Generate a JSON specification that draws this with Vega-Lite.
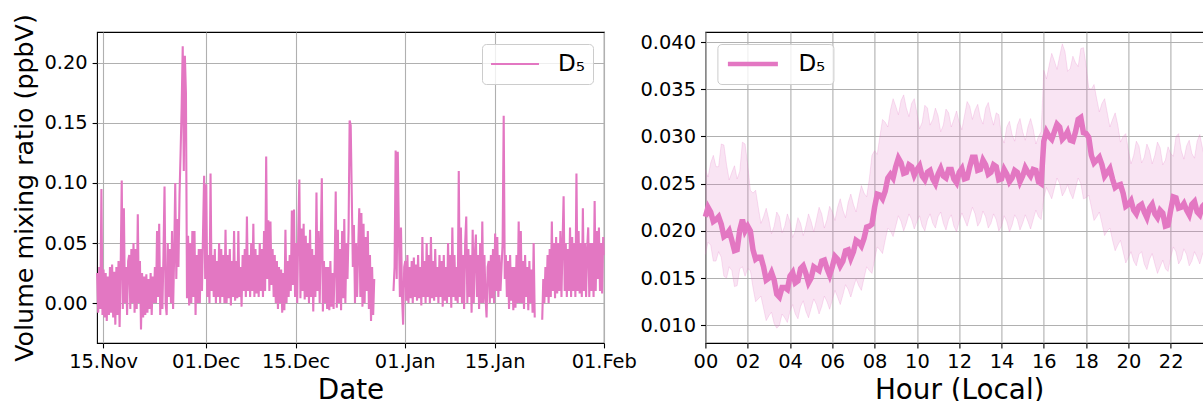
{
  "$schema": "https://vega.github.io/schema/vega-lite/v6.json",
  "autosize": {"type": "pad"},
  "padding": {"left": 12, "top": 13, "right": 0, "bottom": 0},
  "background": "white",
  "config": {
    "font": "DejaVu Sans",
    "view": {"stroke": "black", "strokeWidth": 1.1},
    "axis": {
      "domain": false,
      "grid": true,
      "gridColor": "#b0b0b0",
      "gridWidth": 1.1,
      "gridOpacity": 1,
      "tickColor": "black",
      "tickSize": 4.9,
      "tickWidth": 1.1,
      "labelFontSize": 19.4,
      "labelColor": "black",
      "labelPadding": 5,
      "labelFlush": false,
      "labelOverlap": false,
      "titleColor": "black",
      "titleFontWeight": "normal"
    },
    "legend": {
      "labelColor": "black",
      "labelFontSize": 23,
      "labelOffset": 18,
      "padding": 8,
      "offset": 11.5,
      "clipHeight": 24,
      "fillColor": "rgba(255,255,255,0.8)",
      "strokeColor": "#cccccc",
      "cornerRadius": 4,
      "symbolType": "stroke"
    }
  },
  "bounds": "flush",
  "spacing": 101.4,
  "resolve": {"scale": {"color": "independent"}, "legend": {"color": "independent"}},
  "hconcat": [
    {
      "width": 507,
      "height": 311,
      "data": {
        "format": {"parse": {"t": "utc:'%y%m%d%H'"}},
        "values": [
          {"t":"22111402","v":0.025},{"t":"22111406","v":-0.008},{"t":"22111410","v":0.03},{"t":"22111414","v":-0.005},{"t":"22111418","v":0.095},{"t":"22111422","v":-0.01},
          {"t":"22111502","v":0.028},{"t":"22111506","v":-0.012},{"t":"22111510","v":0.025},{"t":"22111514","v":-0.015},{"t":"22111518","v":0.022},{"t":"22111522","v":-0.01},
          {"t":"22111602","v":0.03},{"t":"22111606","v":-0.008},{"t":"22111610","v":0.032},{"t":"22111614","v":-0.012},{"t":"22111618","v":0.026},{"t":"22111622","v":-0.018},
          {"t":"22111702","v":0.03},{"t":"22111706","v":-0.01},{"t":"22111710","v":0.035},{"t":"22111714","v":-0.02},{"t":"22111718","v":0.03},{"t":"22111722","v":0.102},
          {"t":"22111802","v":-0.005},{"t":"22111806","v":0.079},{"t":"22111810","v":0.0},{"t":"22111814","v":0.03},{"t":"22111818","v":-0.01},{"t":"22111822","v":0.035},
          {"t":"22111902","v":0.04},{"t":"22111906","v":-0.005},{"t":"22111910","v":0.045},{"t":"22111914","v":0.0},{"t":"22111918","v":0.05},{"t":"22111922","v":-0.008},
          {"t":"22112002","v":0.045},{"t":"22112006","v":-0.005},{"t":"22112010","v":0.074},{"t":"22112014","v":0.0},{"t":"22112018","v":0.035},{"t":"22112022","v":-0.022},
          {"t":"22112102","v":0.025},{"t":"22112106","v":-0.012},{"t":"22112110","v":0.022},{"t":"22112114","v":-0.01},{"t":"22112118","v":0.024},{"t":"22112122","v":-0.008},
          {"t":"22112202","v":0.02},{"t":"22112206","v":-0.005},{"t":"22112210","v":0.025},{"t":"22112214","v":-0.01},{"t":"22112218","v":0.022},{"t":"22112222","v":0.0},
          {"t":"22112302","v":0.03},{"t":"22112306","v":0.0},{"t":"22112310","v":0.06},{"t":"22112314","v":0.005},{"t":"22112318","v":0.066},{"t":"22112322","v":-0.01},
          {"t":"22112402","v":0.03},{"t":"22112406","v":-0.005},{"t":"22112410","v":0.04},{"t":"22112414","v":0.097},{"t":"22112418","v":0.0},{"t":"22112422","v":-0.01},
          {"t":"22112502","v":0.05},{"t":"22112506","v":0.005},{"t":"22112510","v":0.045},{"t":"22112514","v":0.0},{"t":"22112518","v":0.06},{"t":"22112522","v":-0.005},
          {"t":"22112602","v":0.04},{"t":"22112606","v":0.1},{"t":"22112610","v":0.02},{"t":"22112614","v":0.07},{"t":"22112618","v":0.03},{"t":"22112622","v":0.09},
          {"t":"22112702","v":0.125},{"t":"22112706","v":0.163},{"t":"22112710","v":0.214},{"t":"22112714","v":0.11},{"t":"22112718","v":0.206},{"t":"22112722","v":0.175},
          {"t":"22112802","v":0.004},{"t":"22112806","v":0.056},{"t":"22112810","v":-0.002},{"t":"22112814","v":0.05},{"t":"22112818","v":0.0},{"t":"22112822","v":0.06},
          {"t":"22112902","v":0.005},{"t":"22112906","v":0.06},{"t":"22112910","v":-0.01},{"t":"22112914","v":0.04},{"t":"22112918","v":0.0},{"t":"22112922","v":0.045},
          {"t":"22113002","v":0.0},{"t":"22113006","v":0.045},{"t":"22113010","v":0.01},{"t":"22113014","v":0.06},{"t":"22113018","v":0.106},{"t":"22113022","v":0.02},
          {"t":"22120102","v":0.099},{"t":"22120106","v":0.005},{"t":"22120110","v":0.04},{"t":"22120114","v":0.0},{"t":"22120118","v":0.108},{"t":"22120122","v":0.01},
          {"t":"22120202","v":0.04},{"t":"22120206","v":0.005},{"t":"22120210","v":0.045},{"t":"22120214","v":0.0},{"t":"22120218","v":0.035},{"t":"22120222","v":0.005},
          {"t":"22120302","v":0.05},{"t":"22120306","v":0.0},{"t":"22120310","v":0.045},{"t":"22120314","v":0.005},{"t":"22120318","v":0.04},{"t":"22120322","v":0.0},
          {"t":"22120402","v":0.061},{"t":"22120406","v":0.0},{"t":"22120410","v":0.04},{"t":"22120414","v":0.004},{"t":"22120418","v":0.045},{"t":"22120422","v":-0.002},
          {"t":"22120502","v":0.035},{"t":"22120506","v":0.005},{"t":"22120510","v":0.06},{"t":"22120514","v":0.002},{"t":"22120518","v":0.035},{"t":"22120522","v":0.004},
          {"t":"22120602","v":0.06},{"t":"22120606","v":0.005},{"t":"22120610","v":0.03},{"t":"22120614","v":-0.003},{"t":"22120618","v":0.04},{"t":"22120622","v":0.01},
          {"t":"22120702","v":0.045},{"t":"22120706","v":0.005},{"t":"22120710","v":0.072},{"t":"22120714","v":0.01},{"t":"22120718","v":0.04},{"t":"22120722","v":0.005},
          {"t":"22120802","v":0.05},{"t":"22120806","v":0.01},{"t":"22120810","v":0.066},{"t":"22120814","v":0.005},{"t":"22120818","v":0.045},{"t":"22120822","v":0.008},
          {"t":"22120902","v":0.04},{"t":"22120906","v":0.005},{"t":"22120910","v":0.05},{"t":"22120914","v":0.01},{"t":"22120918","v":0.045},{"t":"22120922","v":0.005},
          {"t":"22121002","v":0.06},{"t":"22121006","v":0.01},{"t":"22121010","v":0.122},{"t":"22121014","v":0.02},{"t":"22121018","v":0.069},{"t":"22121022","v":0.01},
          {"t":"22121102","v":0.068},{"t":"22121106","v":0.015},{"t":"22121110","v":0.045},{"t":"22121114","v":0.005},{"t":"22121118","v":0.04},{"t":"22121122","v":0.0},
          {"t":"22121202","v":0.035},{"t":"22121206","v":-0.005},{"t":"22121210","v":0.03},{"t":"22121214","v":0.0},{"t":"22121218","v":0.028},{"t":"22121222","v":-0.008},
          {"t":"22121302","v":0.025},{"t":"22121306","v":-0.006},{"t":"22121310","v":0.061},{"t":"22121314","v":0.0},{"t":"22121318","v":0.035},{"t":"22121322","v":0.005},
          {"t":"22121402","v":0.04},{"t":"22121406","v":0.01},{"t":"22121410","v":0.077},{"t":"22121414","v":0.015},{"t":"22121418","v":0.078},{"t":"22121422","v":0.005},
          {"t":"22121502","v":0.05},{"t":"22121506","v":0.0},{"t":"22121510","v":0.06},{"t":"22121514","v":0.103},{"t":"22121518","v":0.004},{"t":"22121522","v":0.062},
          {"t":"22121602","v":0.01},{"t":"22121606","v":0.066},{"t":"22121610","v":0.003},{"t":"22121614","v":0.056},{"t":"22121618","v":0.005},{"t":"22121622","v":0.05},
          {"t":"22121702","v":0.0},{"t":"22121706","v":0.061},{"t":"22121710","v":0.005},{"t":"22121714","v":0.045},{"t":"22121718","v":-0.007},{"t":"22121722","v":0.04},
          {"t":"22121802","v":0.005},{"t":"22121806","v":0.092},{"t":"22121810","v":0.01},{"t":"22121814","v":0.06},{"t":"22121818","v":0.0},{"t":"22121822","v":0.05},
          {"t":"22121902","v":0.104},{"t":"22121906","v":-0.007},{"t":"22121910","v":0.035},{"t":"22121914","v":0.0},{"t":"22121918","v":0.03},{"t":"22121922","v":-0.005},
          {"t":"22122002","v":0.03},{"t":"22122006","v":-0.006},{"t":"22122010","v":0.035},{"t":"22122014","v":-0.003},{"t":"22122018","v":0.025},{"t":"22122022","v":-0.005},
          {"t":"22122102","v":0.03},{"t":"22122106","v":0.093},{"t":"22122110","v":-0.004},{"t":"22122114","v":0.061},{"t":"22122118","v":0.0},{"t":"22122122","v":0.045},
          {"t":"22122202","v":-0.006},{"t":"22122206","v":0.06},{"t":"22122210","v":0.004},{"t":"22122214","v":0.07},{"t":"22122218","v":0.0},{"t":"22122222","v":0.05},
          {"t":"22122302","v":0.02},{"t":"22122306","v":0.06},{"t":"22122310","v":0.152},{"t":"22122314","v":0.148},{"t":"22122318","v":0.09},{"t":"22122322","v":0.03},
          {"t":"22122402","v":0.065},{"t":"22122406","v":0.0},{"t":"22122410","v":0.05},{"t":"22122414","v":0.005},{"t":"22122418","v":0.045},{"t":"22122422","v":0.079},
          {"t":"22122502","v":0.005},{"t":"22122506","v":0.075},{"t":"22122510","v":-0.003},{"t":"22122514","v":0.066},{"t":"22122518","v":0.0},{"t":"22122522","v":0.055},
          {"t":"22122602","v":0.01},{"t":"22122606","v":0.06},{"t":"22122610","v":-0.005},{"t":"22122614","v":0.04},{"t":"22122618","v":-0.015},{"t":"22122622","v":0.03},
          {"t":"22122702","v":-0.01},{"t":"22122706","v":0.02},{"t":"22122710","v":null},
          {"t":"22123006","v":0.01},{"t":"22123010","v":0.03},{"t":"22123014","v":0.127},{"t":"22123018","v":0.02},{"t":"22123022","v":0.126},
          {"t":"22123102","v":0.06},{"t":"22123106","v":0.005},{"t":"22123110","v":0.063},{"t":"22123114","v":0.005},{"t":"22123118","v":-0.018},{"t":"22123122","v":0.03},
          {"t":"23010102","v":0.035},{"t":"23010106","v":0.002},{"t":"23010110","v":0.04},{"t":"23010114","v":0.0},{"t":"23010118","v":0.03},{"t":"23010122","v":0.004},
          {"t":"23010202","v":0.035},{"t":"23010206","v":0.0},{"t":"23010210","v":0.038},{"t":"23010214","v":0.005},{"t":"23010218","v":0.032},{"t":"23010222","v":0.002},
          {"t":"23010302","v":0.04},{"t":"23010306","v":0.004},{"t":"23010310","v":0.03},{"t":"23010314","v":-0.002},{"t":"23010318","v":0.055},{"t":"23010322","v":0.005},
          {"t":"23010402","v":0.035},{"t":"23010406","v":0.0},{"t":"23010410","v":0.05},{"t":"23010414","v":0.005},{"t":"23010418","v":0.04},{"t":"23010422","v":0.0},
          {"t":"23010502","v":0.055},{"t":"23010506","v":0.004},{"t":"23010510","v":0.035},{"t":"23010514","v":0.002},{"t":"23010518","v":0.045},{"t":"23010522","v":0.005},
          {"t":"23010602","v":0.03},{"t":"23010606","v":0.0},{"t":"23010610","v":0.04},{"t":"23010614","v":0.005},{"t":"23010618","v":0.035},{"t":"23010622","v":-0.003},
          {"t":"23010702","v":0.04},{"t":"23010706","v":0.002},{"t":"23010710","v":0.03},{"t":"23010714","v":0.0},{"t":"23010718","v":0.05},{"t":"23010722","v":0.005},
          {"t":"23010802","v":0.04},{"t":"23010806","v":-0.004},{"t":"23010810","v":0.063},{"t":"23010814","v":0.005},{"t":"23010818","v":0.04},{"t":"23010822","v":0.002},
          {"t":"23010902","v":0.03},{"t":"23010906","v":0.0},{"t":"23010910","v":0.11},{"t":"23010914","v":0.005},{"t":"23010918","v":0.063},{"t":"23010922","v":0.0},
          {"t":"23011002","v":0.04},{"t":"23011006","v":-0.005},{"t":"23011010","v":0.05},{"t":"23011014","v":0.072},{"t":"23011018","v":0.0},{"t":"23011022","v":0.045},
          {"t":"23011102","v":0.005},{"t":"23011106","v":0.04},{"t":"23011110","v":-0.008},{"t":"23011114","v":0.061},{"t":"23011118","v":0.0},{"t":"23011122","v":0.04},
          {"t":"23011202","v":0.057},{"t":"23011206","v":0.005},{"t":"23011210","v":0.04},{"t":"23011214","v":-0.005},{"t":"23011218","v":0.05},{"t":"23011222","v":0.0},
          {"t":"23011302","v":0.068},{"t":"23011306","v":0.0},{"t":"23011310","v":0.04},{"t":"23011314","v":0.005},{"t":"23011318","v":-0.012},{"t":"23011322","v":0.03},
          {"t":"23011402","v":0.035},{"t":"23011406","v":0.0},{"t":"23011410","v":0.04},{"t":"23011414","v":0.004},{"t":"23011418","v":0.045},{"t":"23011422","v":0.0},
          {"t":"23011502","v":0.058},{"t":"23011506","v":0.01},{"t":"23011510","v":0.055},{"t":"23011514","v":0.005},{"t":"23011518","v":0.04},{"t":"23011522","v":0.01},
          {"t":"23011602","v":0.03},{"t":"23011606","v":0.05},{"t":"23011610","v":0.156},{"t":"23011614","v":0.02},{"t":"23011618","v":0.04},{"t":"23011622","v":0.005},
          {"t":"23011702","v":0.035},{"t":"23011706","v":-0.005},{"t":"23011710","v":0.04},{"t":"23011714","v":0.002},{"t":"23011718","v":0.03},{"t":"23011722","v":-0.006},
          {"t":"23011802","v":0.03},{"t":"23011806","v":-0.004},{"t":"23011810","v":0.04},{"t":"23011814","v":0.0},{"t":"23011818","v":0.068},{"t":"23011822","v":0.0},
          {"t":"23011902","v":0.06},{"t":"23011906","v":0.0},{"t":"23011910","v":0.035},{"t":"23011914","v":-0.005},{"t":"23011918","v":0.04},{"t":"23011922","v":0.005},
          {"t":"23012002","v":0.03},{"t":"23012006","v":-0.006},{"t":"23012010","v":0.035},{"t":"23012014","v":0.0},{"t":"23012018","v":0.028},{"t":"23012022","v":-0.008},
          {"t":"23012102","v":0.05},{"t":"23012106","v":-0.012},{"t":"23012110","v":null},
          {"t":"23012210","v":-0.014},{"t":"23012214","v":0.02},{"t":"23012218","v":0.0},{"t":"23012222","v":0.03},
          {"t":"23012302","v":0.005},{"t":"23012306","v":0.04},{"t":"23012310","v":0.0},{"t":"23012314","v":0.045},{"t":"23012318","v":0.005},{"t":"23012322","v":0.068},
          {"t":"23012402","v":0.01},{"t":"23012406","v":0.05},{"t":"23012410","v":0.004},{"t":"23012414","v":0.055},{"t":"23012418","v":0.008},{"t":"23012422","v":0.05},
          {"t":"23012502","v":0.01},{"t":"23012506","v":0.06},{"t":"23012510","v":0.005},{"t":"23012514","v":0.05},{"t":"23012518","v":0.089},{"t":"23012522","v":0.01},
          {"t":"23012602","v":0.05},{"t":"23012606","v":0.005},{"t":"23012610","v":0.045},{"t":"23012614","v":0.01},{"t":"23012618","v":0.063},{"t":"23012622","v":0.005},
          {"t":"23012702","v":0.055},{"t":"23012706","v":0.01},{"t":"23012710","v":0.05},{"t":"23012714","v":0.005},{"t":"23012718","v":0.108},{"t":"23012722","v":0.01},
          {"t":"23012802","v":0.06},{"t":"23012806","v":0.008},{"t":"23012810","v":0.05},{"t":"23012814","v":0.005},{"t":"23012818","v":0.079},{"t":"23012822","v":0.01},
          {"t":"23012902","v":0.05},{"t":"23012906","v":0.005},{"t":"23012910","v":0.045},{"t":"23012914","v":0.063},{"t":"23012918","v":0.005},{"t":"23012922","v":0.05},
          {"t":"23013002","v":0.01},{"t":"23013006","v":0.05},{"t":"23013010","v":0.005},{"t":"23013014","v":0.085},{"t":"23013018","v":0.01},{"t":"23013022","v":0.06},
          {"t":"23013102","v":0.02},{"t":"23013106","v":0.063},{"t":"23013110","v":0.01},{"t":"23013114","v":0.05},{"t":"23013118","v":0.008},{"t":"23013122","v":0.055},
          {"t":"23020100","v":0.04}
        ]
      },
      "mark": {"type": "line", "strokeWidth": 2.1, "invalid": "break-paths-show-domains"},
      "encoding": {
        "x": {
          "field": "t",
          "type": "temporal",
          "scale": {
            "type": "utc",
            "domain": [
              {"year": 2022, "month": 11, "date": 14, "hours": 1, "minutes": 30, "utc": true},
              {"year": 2023, "month": 2, "date": 1, "hours": 1, "utc": true}
            ]
          },
          "axis": {
            "values": [
              {"year": 2022, "month": 11, "date": 15, "utc": true},
              {"year": 2022, "month": 12, "date": 1, "utc": true},
              {"year": 2022, "month": 12, "date": 15, "utc": true},
              {"year": 2023, "month": 1, "date": 1, "utc": true},
              {"year": 2023, "month": 1, "date": 15, "utc": true},
              {"year": 2023, "month": 2, "date": 1, "utc": true}
            ],
            "format": "%d.%b",
            "title": "Date",
            "titleFontSize": 27.8,
            "titlePadding": 5
          }
        },
        "y": {
          "field": "v",
          "type": "quantitative",
          "scale": {"domain": [-0.0333, 0.2258], "nice": false, "zero": false},
          "axis": {
            "values": [0, 0.05, 0.1, 0.15, 0.2],
            "format": ".2f",
            "title": "Volume mixing ratio (ppbV)",
            "titleFontSize": 25.3,
            "titlePadding": 6
          }
        },
        "color": {
          "datum": "D₅",
          "type": "nominal",
          "scale": {"range": ["#e377c2"]},
          "legend": {"title": null, "orient": "top-right", "symbolStrokeWidth": 2, "symbolSize": 2300}
        }
      }
    },
    {
      "width": 507.6,
      "height": 311,
      "data": {
        "values": [
          {"h":0.00,"m":0.0215,"lo":0.0175,"hi":0.0265},
          {"h":0.25,"m":0.0220,"lo":0.0185,"hi":0.0272},
          {"h":0.50,"m":0.0212,"lo":0.0168,"hi":0.0268},
          {"h":0.75,"m":0.0207,"lo":0.0172,"hi":0.0292},
          {"h":1.00,"m":0.0196,"lo":0.0150,"hi":0.0270},
          {"h":1.25,"m":0.0190,"lo":0.0158,"hi":0.0262},
          {"h":1.50,"m":0.0180,"lo":0.0142,"hi":0.0255},
          {"h":1.75,"m":0.0212,"lo":0.0162,"hi":0.0294},
          {"h":2.00,"m":0.0205,"lo":0.0160,"hi":0.0270},
          {"h":2.25,"m":0.0180,"lo":0.0140,"hi":0.0240},
          {"h":2.50,"m":0.0172,"lo":0.0128,"hi":0.0225},
          {"h":2.75,"m":0.0162,"lo":0.0118,"hi":0.0215},
          {"h":3.00,"m":0.0150,"lo":0.0110,"hi":0.0212},
          {"h":3.25,"m":0.0148,"lo":0.0102,"hi":0.0205},
          {"h":3.50,"m":0.0130,"lo":0.0100,"hi":0.0215},
          {"h":3.75,"m":0.0140,"lo":0.0108,"hi":0.0205},
          {"h":4.00,"m":0.0152,"lo":0.0115,"hi":0.0210},
          {"h":4.25,"m":0.0145,"lo":0.0112,"hi":0.0200},
          {"h":4.50,"m":0.0160,"lo":0.0120,"hi":0.0208},
          {"h":4.75,"m":0.0155,"lo":0.0115,"hi":0.0205},
          {"h":5.00,"m":0.0150,"lo":0.0118,"hi":0.0210},
          {"h":5.25,"m":0.0160,"lo":0.0122,"hi":0.0212},
          {"h":5.50,"m":0.0168,"lo":0.0120,"hi":0.0218},
          {"h":5.75,"m":0.0160,"lo":0.0125,"hi":0.0212},
          {"h":6.00,"m":0.0162,"lo":0.0127,"hi":0.0220},
          {"h":6.25,"m":0.0170,"lo":0.0130,"hi":0.0225},
          {"h":6.50,"m":0.0168,"lo":0.0132,"hi":0.0222},
          {"h":6.75,"m":0.0180,"lo":0.0138,"hi":0.0230},
          {"h":7.00,"m":0.0178,"lo":0.0140,"hi":0.0228},
          {"h":7.25,"m":0.0188,"lo":0.0142,"hi":0.0235},
          {"h":7.50,"m":0.0192,"lo":0.0150,"hi":0.0240},
          {"h":7.75,"m":0.0205,"lo":0.0158,"hi":0.0255},
          {"h":8.00,"m":0.0225,"lo":0.0170,"hi":0.0285},
          {"h":8.25,"m":0.0238,"lo":0.0180,"hi":0.0300},
          {"h":8.50,"m":0.0242,"lo":0.0190,"hi":0.0315},
          {"h":8.75,"m":0.0260,"lo":0.0200,"hi":0.0328},
          {"h":9.00,"m":0.0268,"lo":0.0205,"hi":0.0332},
          {"h":9.25,"m":0.0272,"lo":0.0210,"hi":0.0338},
          {"h":9.50,"m":0.0262,"lo":0.0208,"hi":0.0330},
          {"h":9.75,"m":0.0268,"lo":0.0212,"hi":0.0335},
          {"h":10.00,"m":0.0265,"lo":0.0210,"hi":0.0325},
          {"h":10.25,"m":0.0258,"lo":0.0205,"hi":0.0315},
          {"h":10.50,"m":0.0262,"lo":0.0212,"hi":0.0330},
          {"h":10.75,"m":0.0255,"lo":0.0208,"hi":0.0318},
          {"h":11.00,"m":0.0260,"lo":0.0215,"hi":0.0322},
          {"h":11.25,"m":0.0258,"lo":0.0208,"hi":0.0312},
          {"h":11.50,"m":0.0265,"lo":0.0212,"hi":0.0325},
          {"h":11.75,"m":0.0255,"lo":0.0205,"hi":0.0318},
          {"h":12.00,"m":0.0262,"lo":0.0210,"hi":0.0315},
          {"h":12.25,"m":0.0255,"lo":0.0212,"hi":0.0322},
          {"h":12.50,"m":0.0268,"lo":0.0215,"hi":0.0332},
          {"h":12.75,"m":0.0278,"lo":0.0218,"hi":0.0328},
          {"h":13.00,"m":0.0265,"lo":0.0210,"hi":0.0320},
          {"h":13.25,"m":0.0270,"lo":0.0215,"hi":0.0330},
          {"h":13.50,"m":0.0262,"lo":0.0208,"hi":0.0322},
          {"h":13.75,"m":0.0268,"lo":0.0212,"hi":0.0325},
          {"h":14.00,"m":0.0255,"lo":0.0205,"hi":0.0300},
          {"h":14.25,"m":0.0260,"lo":0.0210,"hi":0.0310},
          {"h":14.50,"m":0.0256,"lo":0.0206,"hi":0.0302},
          {"h":14.75,"m":0.0262,"lo":0.0212,"hi":0.0312},
          {"h":15.00,"m":0.0258,"lo":0.0208,"hi":0.0305},
          {"h":15.25,"m":0.0262,"lo":0.0210,"hi":0.0310},
          {"h":15.50,"m":0.0265,"lo":0.0212,"hi":0.0308},
          {"h":15.75,"m":0.0252,"lo":0.0215,"hi":0.0300},
          {"h":16.00,"m":0.0295,"lo":0.0235,"hi":0.0370},
          {"h":16.25,"m":0.0300,"lo":0.0240,"hi":0.0375},
          {"h":16.50,"m":0.0305,"lo":0.0245,"hi":0.0380},
          {"h":16.75,"m":0.0310,"lo":0.0250,"hi":0.0385},
          {"h":17.00,"m":0.0300,"lo":0.0242,"hi":0.0390},
          {"h":17.25,"m":0.0296,"lo":0.0240,"hi":0.0372},
          {"h":17.50,"m":0.0305,"lo":0.0245,"hi":0.0378},
          {"h":17.75,"m":0.0320,"lo":0.0250,"hi":0.0393},
          {"h":18.00,"m":0.0303,"lo":0.0235,"hi":0.0375},
          {"h":18.25,"m":0.0280,"lo":0.0225,"hi":0.0350},
          {"h":18.50,"m":0.0275,"lo":0.0215,"hi":0.0340},
          {"h":18.75,"m":0.0270,"lo":0.0208,"hi":0.0335},
          {"h":19.00,"m":0.0262,"lo":0.0200,"hi":0.0325},
          {"h":19.25,"m":0.0255,"lo":0.0190,"hi":0.0318},
          {"h":19.50,"m":0.0248,"lo":0.0185,"hi":0.0312},
          {"h":19.75,"m":0.0240,"lo":0.0178,"hi":0.0300},
          {"h":20.00,"m":0.0228,"lo":0.0172,"hi":0.0285},
          {"h":20.25,"m":0.0222,"lo":0.0168,"hi":0.0280},
          {"h":20.50,"m":0.0226,"lo":0.0175,"hi":0.0290},
          {"h":20.75,"m":0.0220,"lo":0.0165,"hi":0.0278},
          {"h":21.00,"m":0.0224,"lo":0.0170,"hi":0.0285},
          {"h":21.25,"m":0.0218,"lo":0.0165,"hi":0.0280},
          {"h":21.50,"m":0.0222,"lo":0.0162,"hi":0.0288},
          {"h":21.75,"m":0.0205,"lo":0.0160,"hi":0.0275},
          {"h":22.00,"m":0.0222,"lo":0.0172,"hi":0.0282},
          {"h":22.25,"m":0.0235,"lo":0.0178,"hi":0.0300},
          {"h":22.50,"m":0.0225,"lo":0.0170,"hi":0.0285},
          {"h":22.75,"m":0.0222,"lo":0.0175,"hi":0.0290},
          {"h":23.00,"m":0.0228,"lo":0.0168,"hi":0.0282},
          {"h":23.25,"m":0.0220,"lo":0.0172,"hi":0.0295},
          {"h":23.50,"m":0.0226,"lo":0.0175,"hi":0.0288},
          {"h":23.75,"m":0.0222,"lo":0.0170,"hi":0.0285},
          {"h":24.00,"m":0.0225,"lo":0.0172,"hi":0.0290},
          {"h":0.125,"m":0.0225,"lo":0.0188,"hi":0.0257},
          {"h":0.375,"m":0.0210,"lo":0.0168,"hi":0.0280},
          {"h":0.625,"m":0.0215,"lo":0.0178,"hi":0.0268},
          {"h":0.875,"m":0.0194,"lo":0.0152,"hi":0.0291},
          {"h":1.125,"m":0.0200,"lo":0.0162,"hi":0.0254},
          {"h":1.375,"m":0.0179,"lo":0.0141,"hi":0.0269},
          {"h":1.625,"m":0.0201,"lo":0.0160,"hi":0.0263},
          {"h":1.875,"m":0.0200,"lo":0.0152,"hi":0.0292},
          {"h":2.125,"m":0.0200,"lo":0.0158,"hi":0.0243},
          {"h":2.375,"m":0.0170,"lo":0.0125,"hi":0.0243},
          {"h":2.625,"m":0.0172,"lo":0.0131,"hi":0.0208},
          {"h":2.875,"m":0.0148,"lo":0.0105,"hi":0.0224},
          {"h":3.125,"m":0.0156,"lo":0.0114,"hi":0.0197},
          {"h":3.375,"m":0.0133,"lo":0.0097,"hi":0.0220},
          {"h":3.625,"m":0.0140,"lo":0.0112,"hi":0.0198},
          {"h":3.875,"m":0.0138,"lo":0.0103,"hi":0.0218},
          {"h":4.125,"m":0.0156,"lo":0.0122,"hi":0.0193},
          {"h":4.375,"m":0.0147,"lo":0.0107,"hi":0.0214},
          {"h":4.625,"m":0.0163,"lo":0.0126,"hi":0.0195},
          {"h":4.875,"m":0.0145,"lo":0.0108,"hi":0.0218},
          {"h":5.125,"m":0.0162,"lo":0.0128,"hi":0.0199},
          {"h":5.375,"m":0.0158,"lo":0.0112,"hi":0.0225},
          {"h":5.625,"m":0.0169,"lo":0.0131,"hi":0.0203},
          {"h":5.875,"m":0.0153,"lo":0.0117,"hi":0.0226},
          {"h":6.125,"m":0.0173,"lo":0.0137,"hi":0.0211},
          {"h":6.375,"m":0.0163,"lo":0.0122,"hi":0.0234},
          {"h":6.625,"m":0.0179,"lo":0.0143,"hi":0.0214},
          {"h":6.875,"m":0.0171,"lo":0.0130,"hi":0.0239},
          {"h":7.125,"m":0.0190,"lo":0.0149,"hi":0.0220},
          {"h":7.375,"m":0.0184,"lo":0.0137,"hi":0.0248},
          {"h":7.625,"m":0.0204,"lo":0.0162,"hi":0.0236},
          {"h":7.875,"m":0.0207,"lo":0.0155,"hi":0.0280},
          {"h":8.125,"m":0.0239,"lo":0.0183,"hi":0.0281},
          {"h":8.375,"m":0.0234,"lo":0.0176,"hi":0.0318},
          {"h":8.625,"m":0.0256,"lo":0.0203,"hi":0.0310},
          {"h":8.875,"m":0.0256,"lo":0.0194,"hi":0.0340},
          {"h":9.125,"m":0.0277,"lo":0.0216,"hi":0.0323},
          {"h":9.375,"m":0.0261,"lo":0.0200,"hi":0.0344},
          {"h":9.625,"m":0.0270,"lo":0.0218,"hi":0.0321},
          {"h":9.875,"m":0.0259,"lo":0.0202,"hi":0.0340},
          {"h":10.125,"m":0.0269,"lo":0.0216,"hi":0.0308},
          {"h":10.375,"m":0.0254,"lo":0.0200,"hi":0.0333},
          {"h":10.625,"m":0.0264,"lo":0.0218,"hi":0.0312},
          {"h":10.875,"m":0.0250,"lo":0.0203,"hi":0.0330},
          {"h":11.125,"m":0.0266,"lo":0.0220,"hi":0.0305},
          {"h":11.375,"m":0.0256,"lo":0.0201,"hi":0.0329},
          {"h":11.625,"m":0.0265,"lo":0.0217,"hi":0.0310},
          {"h":11.875,"m":0.0251,"lo":0.0199,"hi":0.0327},
          {"h":12.125,"m":0.0266,"lo":0.0219,"hi":0.0307},
          {"h":12.375,"m":0.0256,"lo":0.0205,"hi":0.0337},
          {"h":12.625,"m":0.0278,"lo":0.0225,"hi":0.0318},
          {"h":12.875,"m":0.0264,"lo":0.0205,"hi":0.0334},
          {"h":13.125,"m":0.0275,"lo":0.0221,"hi":0.0313},
          {"h":13.375,"m":0.0260,"lo":0.0203,"hi":0.0336},
          {"h":13.625,"m":0.0270,"lo":0.0218,"hi":0.0312},
          {"h":13.875,"m":0.0254,"lo":0.0200,"hi":0.0323},
          {"h":14.125,"m":0.0265,"lo":0.0216,"hi":0.0293},
          {"h":14.375,"m":0.0252,"lo":0.0199,"hi":0.0316},
          {"h":14.625,"m":0.0264,"lo":0.0217,"hi":0.0295},
          {"h":14.875,"m":0.0252,"lo":0.0201,"hi":0.0319},
          {"h":15.125,"m":0.0267,"lo":0.0217,"hi":0.0296},
          {"h":15.375,"m":0.0258,"lo":0.0202,"hi":0.0319},
          {"h":15.625,"m":0.0264,"lo":0.0222,"hi":0.0292},
          {"h":15.875,"m":0.0250,"lo":0.0212,"hi":0.0305},
          {"h":16.125,"m":0.0305,"lo":0.0246,"hi":0.0361},
          {"h":16.375,"m":0.0297,"lo":0.0234,"hi":0.0388},
          {"h":16.625,"m":0.0313,"lo":0.0256,"hi":0.0371},
          {"h":16.875,"m":0.0297,"lo":0.0237,"hi":0.0398},
          {"h":17.125,"m":0.0305,"lo":0.0249,"hi":0.0369},
          {"h":17.375,"m":0.0295,"lo":0.0234,"hi":0.0385},
          {"h":17.625,"m":0.0318,"lo":0.0256,"hi":0.0374},
          {"h":17.875,"m":0.0304,"lo":0.0234,"hi":0.0394},
          {"h":18.125,"m":0.0299,"lo":0.0238,"hi":0.0351},
          {"h":18.375,"m":0.0272,"lo":0.0211,"hi":0.0355},
          {"h":18.625,"m":0.0278,"lo":0.0220,"hi":0.0326},
          {"h":18.875,"m":0.0258,"lo":0.0195,"hi":0.0340},
          {"h":19.125,"m":0.0266,"lo":0.0203,"hi":0.0310},
          {"h":19.375,"m":0.0246,"lo":0.0179,"hi":0.0325},
          {"h":19.625,"m":0.0249,"lo":0.0190,"hi":0.0294},
          {"h":19.875,"m":0.0226,"lo":0.0166,"hi":0.0303},
          {"h":20.125,"m":0.0232,"lo":0.0178,"hi":0.0271},
          {"h":20.375,"m":0.0218,"lo":0.0163,"hi":0.0295},
          {"h":20.625,"m":0.0228,"lo":0.0178,"hi":0.0272},
          {"h":20.875,"m":0.0214,"lo":0.0159,"hi":0.0292},
          {"h":21.125,"m":0.0228,"lo":0.0176,"hi":0.0271},
          {"h":21.375,"m":0.0214,"lo":0.0155,"hi":0.0294},
          {"h":21.625,"m":0.0219,"lo":0.0169,"hi":0.0270},
          {"h":21.875,"m":0.0206,"lo":0.0157,"hi":0.0289},
          {"h":22.125,"m":0.0236,"lo":0.0183,"hi":0.0279},
          {"h":22.375,"m":0.0224,"lo":0.0165,"hi":0.0303},
          {"h":22.625,"m":0.0229,"lo":0.0181,"hi":0.0276},
          {"h":22.875,"m":0.0217,"lo":0.0163,"hi":0.0296},
          {"h":23.125,"m":0.0231,"lo":0.0178,"hi":0.0277},
          {"h":23.375,"m":0.0217,"lo":0.0165,"hi":0.0302},
          {"h":23.625,"m":0.0229,"lo":0.0181,"hi":0.0275},
          {"h":23.875,"m":0.0216,"lo":0.0162,"hi":0.0298}
        ]
      },
      "encoding": {
        "x": {
          "field": "h",
          "type": "quantitative",
          "scale": {"domain": [0, 24], "nice": false, "zero": false},
          "axis": {
            "values": [0, 2, 4, 6, 8, 10, 12, 14, 16, 18, 20, 22],
            "labelExpr": "datum.value < 10 ? '0' + datum.value : '' + datum.value",
            "title": "Hour (Local)",
            "titleFontSize": 27.8,
            "titlePadding": 5
          }
        }
      },
      "layer": [
        {
          "mark": {"type": "area", "color": "#e377c2", "opacity": 0.2},
          "encoding": {
            "y": {
              "field": "lo",
              "type": "quantitative",
              "scale": {"domain": [0.00813, 0.04106], "nice": false, "zero": false},
              "axis": {"values": [0.01, 0.015, 0.02, 0.025, 0.03, 0.035, 0.04], "format": ".3f", "title": null}
            },
            "y2": {"field": "hi"}
          }
        },
        {
          "mark": {"type": "line", "color": "#e377c2", "opacity": 0.22, "strokeWidth": 1},
          "encoding": {"y": {"field": "hi", "type": "quantitative"}}
        },
        {
          "mark": {"type": "line", "color": "#e377c2", "opacity": 0.22, "strokeWidth": 1},
          "encoding": {"y": {"field": "lo", "type": "quantitative"}}
        },
        {
          "mark": {"type": "line", "strokeWidth": 5.5},
          "encoding": {
            "y": {"field": "m", "type": "quantitative"},
            "color": {
              "datum": "D₅",
              "type": "nominal",
              "scale": {"range": ["#e377c2"]},
              "legend": {"title": null, "orient": "top-left", "symbolStrokeWidth": 4.5, "symbolSize": 2500}
            }
          }
        }
      ]
    }
  ]
}
